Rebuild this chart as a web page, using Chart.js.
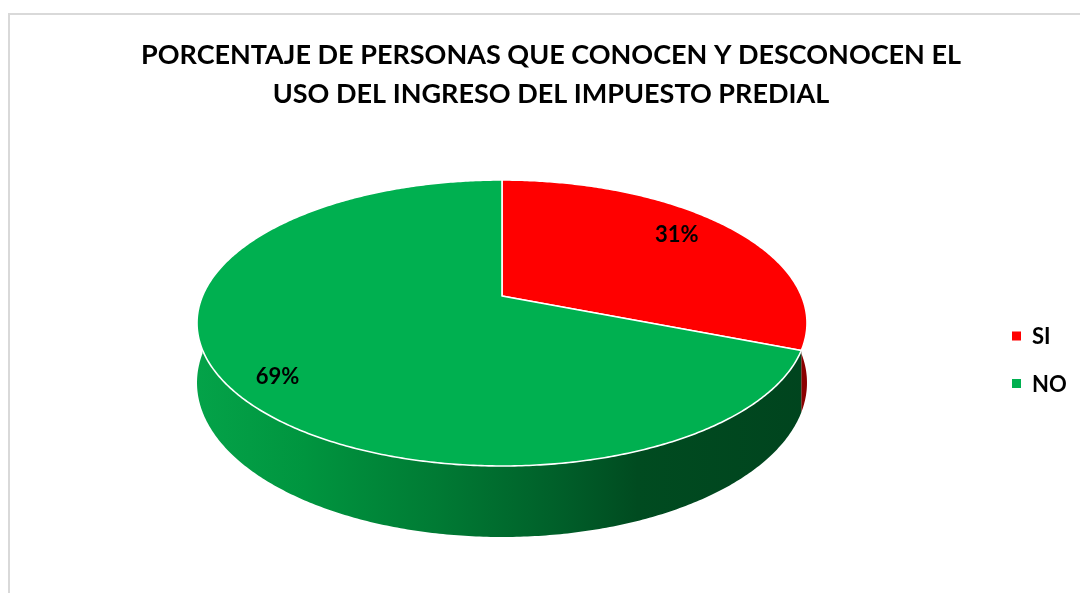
<!DOCTYPE html>
<html><head><meta charset="utf-8">
<script src="https://cdn.jsdelivr.net/npm/chart.js@4.4.1/dist/chart.umd.min.js"></script>
<style>html,body{margin:0;padding:0;background:#fff;overflow:hidden}#wrap{width:1080px;height:593px;position:relative}</style>
</head><body><div id="wrap"><canvas id="c" width="1080" height="593"></canvas></div>
<script>
const categories = ['SI', 'NO'];
const values = [31, 69];
const titleLines = ['PORCENTAJE DE PERSONAS QUE CONOCEN Y DESCONOCEN EL', 'USO DEL INGRESO DEL IMPUESTO PREDIAL'];

const topColors = ['#ff0000', '#00b050'];
const sideStops = [
  [[0, '#e60000'], [0.6, '#b00000'], [1, '#8a0000']],
  [[0, '#04a349'], [0.18, '#00953f'], [0.39, '#007b34'], [0.6, '#005e29'], [0.72, '#004b20'], [1, '#00441e']]
];
const FONT = 'Lato, "Open Sans", sans-serif';

const frame = {
  id: 'frame',
  beforeDraw(chart) {
    const ctx = chart.ctx;
    ctx.save();
    ctx.fillStyle = '#ffffff';
    ctx.fillRect(0, 0, chart.width, chart.height);
    ctx.fillStyle = '#d9d9d9';
    ctx.fillRect(8, 13, chart.width, 2);
    ctx.fillRect(8, 13, 2, chart.height);
    ctx.restore();
  },
  afterLayout(chart) {
    const t = chart.titleBlock;
    if (t) { t.left = 22; t.right = chart.width; t.width = t.right - t.left; }
  }
};

const TILT = 0.1888, KX = 299.5, KY = 137.9, DEPTH = 57.6;
function makeProj(cx, cy) {
  return (a, h, f) => {
    const X = f * Math.cos(a), Z = f * Math.sin(a);
    const s = 1 / (1 - TILT * Z);
    return [cx + KX * X * s, cy + (KY * Z + h) * s];
  };
}

const pie3d = {
  id: 'pie3d',
  beforeDatasetsDraw(chart) {
    const ctx = chart.ctx;
    const meta = chart.getDatasetMeta(0);
    const cx = meta.data[0].x, cy = meta.data[0].y;
    const proj = makeProj(cx, cy);
    const step = 0.01;
    ctx.save();
    meta.data.forEach((el, i) => {
      const a1 = Math.max(el.startAngle, 0), a2 = Math.min(el.endAngle, Math.PI);
      if (a2 <= a1) return;
      const g = ctx.createLinearGradient(cx - KX * 1.03, 0, cx + KX * 1.03, 0);
      sideStops[i].forEach(s => g.addColorStop(s[0], s[1]));
      ctx.beginPath();
      let p = proj(a1, 0, 1); ctx.moveTo(p[0], p[1]);
      for (let a = a1 + step; a < a2; a += step) { p = proj(a, 0, 1); ctx.lineTo(p[0], p[1]); }
      p = proj(a2, 0, 1); ctx.lineTo(p[0], p[1]);
      for (let a = a2; a > a1; a -= step) { p = proj(a, DEPTH, 1); ctx.lineTo(p[0], p[1]); }
      p = proj(a1, DEPTH, 1); ctx.lineTo(p[0], p[1]);
      ctx.closePath();
      ctx.fillStyle = g;
      ctx.fill();
    });
    meta.data.forEach((el, i) => {
      ctx.beginPath();
      ctx.moveTo(cx, cy);
      for (let a = el.startAngle; a < el.endAngle; a += step) { const p = proj(a, 0, 1); ctx.lineTo(p[0], p[1]); }
      const p = proj(el.endAngle, 0, 1); ctx.lineTo(p[0], p[1]);
      ctx.closePath();
      ctx.fillStyle = topColors[i];
      ctx.fill();
      ctx.strokeStyle = '#ffffff';
      ctx.lineWidth = 1.6;
      ctx.lineJoin = 'round';
      ctx.stroke();
    });
    ctx.restore();
    return false;
  },
  afterDraw(chart) {
    const ctx = chart.ctx;
    const meta = chart.getDatasetMeta(0);
    const cx = meta.data[0].x, cy = meta.data[0].y;
    const proj = makeProj(cx, cy);
    const total = values.reduce((s, v) => s + v, 0);
    ctx.save();
    ctx.font = 'bold 22px ' + FONT;
    ctx.fillStyle = '#000';
    ctx.textAlign = 'center';
    ctx.textBaseline = 'middle';
    meta.data.forEach((el, i) => {
      const mid = (el.startAngle + el.endAngle) / 2;
      const p = proj(mid, 0, 0.8);
      ctx.fillText(Math.round(values[i] / total * 100) + '%', p[0] - 8, cy + (p[1] - cy) * 1.14 + 4);
    });
    ctx.textAlign = 'left';
    categories.forEach((c, i) => {
      const y = 336 + i * 47.5;
      ctx.fillStyle = topColors[i];
      ctx.fillRect(1012, y - 4.5, 9, 9);
      ctx.fillStyle = '#000';
      ctx.fillText(c, 1032, y + 1);
    });
    ctx.restore();
  }
};

new Chart(document.getElementById('c'), {
  type: 'pie',
  data: {
    labels: categories,
    datasets: [{ data: values, backgroundColor: topColors, borderColor: '#fff', borderWidth: 1.5 }]
  },
  options: {
    responsive: false,
    devicePixelRatio: 1,
    animation: false,
    layout: { padding: { left: 22, right: 98, top: 0, bottom: 125 } },
    plugins: {
      legend: { display: false },
      tooltip: { enabled: false },
      title: {
        display: true,
        text: titleLines,
        color: '#000',
        font: { family: FONT, weight: 'bold', size: 27, lineHeight: 39 / 27 },
        padding: { top: 36, bottom: 10 }
      }
    }
  },
  plugins: [frame, pie3d]
});
</script>
</body></html>
